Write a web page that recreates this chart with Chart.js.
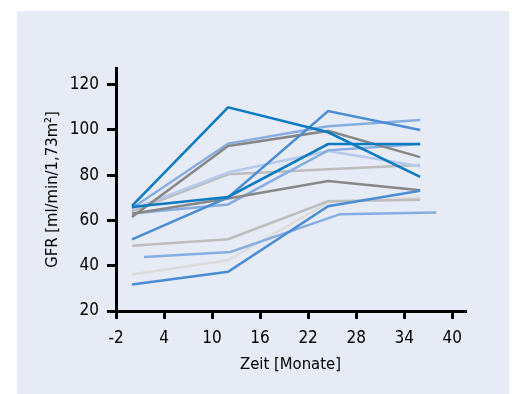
<!DOCTYPE html>
<html>
<head>
<meta charset="utf-8">
<script src="https://cdn.jsdelivr.net/npm/chart.js@4"></script>
<style>
  body { margin: 0; background: #fff; }
  #panel { position: absolute; left: 17px; top: 11px; width: 492px; height: 383px; background: #e7ebf6; }
  #gfrChart { position: absolute; left: 0; top: 0; }
</style>
</head>
<body>
<div id="panel"></div>
<canvas id="gfrChart" width="514" height="394"></canvas>
<script>
// months after transplant, per patient
const monthsStd = [0, 12, 24.5, 36];
const monthsLate = [1.5, 12.3, 26, 38];

// GFR values [ml/min/1,73m²]
const gfrA = [66.5, 110, 99, 79.3];
const gfrB = [66, 70.4, 93.8, 93.8];
const gfrC = [51.7, 70.2, 108.4, 100];
const gfrD = [65.4, 94, 101.7, 104.4];
const gfrE = [61.5, 92.9, 99.6, 88];
const gfrF = [63, 69.7, 77.4, 73.4];
const gfrG = [65, 81.2, 90.7, 84];
const gfrH = [63.1, 67.1, 91, 93.8];
const gfrI = [64, 80.4, 82.6, 84.5];
const gfrJ = [48.8, 51.7, 68.5, 69.2];
const gfrK = [43.9, 46.1, 62.8, 63.5];
const gfrL = [36.1, 42.4, 68, 70.2];
const gfrM = [31.7, 37.3, 66.3, 73.1];

const xTicks = [-2, 4, 10, 16, 22, 28, 34, 40];
const yTicks = [20, 40, 60, 80, 100, 120];

const darkBlue = '#0a7bc3';
const midBlue = '#4a8dd6';
const lightBlue = '#86ade2';
const paleBlue = '#b6caee';
const darkGray = '#878787';
const lightGray = '#bdbdbd';
const paleGray = '#dcdcdc';

function series(xs, ys, color) {
  return {
    data: ys.map((y, i) => ({ x: xs[i], y: y })),
    borderColor: color,
    borderWidth: 2.5,
    pointRadius: 0,
    tension: 0,
    fill: false
  };
}

const family = "'DejaVu Sans Condensed', 'Liberation Sans Narrow', sans-serif";
const tickFont = { family: family, size: 17 };
const titleFont = { family: family, size: 16.5 };

const ctx = document.getElementById('gfrChart').getContext('2d');
new Chart(ctx, {
  type: 'line',
  data: {
    datasets: [
      series(monthsStd, gfrA, darkBlue),
      series(monthsStd, gfrB, darkBlue),
      series(monthsStd, gfrC, midBlue),
      series(monthsStd, gfrM, midBlue),
      series(monthsStd, gfrE, darkGray),
      series(monthsStd, gfrF, darkGray),
      series(monthsStd, gfrD, lightBlue),
      series(monthsStd, gfrH, lightBlue),
      series(monthsLate, gfrK, lightBlue),
      series(monthsStd, gfrG, paleBlue),
      series(monthsStd, gfrI, lightGray),
      series(monthsStd, gfrJ, lightGray),
      series(monthsStd, gfrL, paleGray)
    ]
  },
  options: {
    responsive: false,
    animation: false,
    layout: { padding: { left: 0, top: 68, right: 49, bottom: 0 } },
    plugins: { legend: { display: false }, tooltip: { enabled: false } },
    scales: {
      x: {
        type: 'linear',
        min: -2,
        max: 41.6,
        afterFit: s => { s.height = 83; },
        afterBuildTicks: s => { s.ticks = xTicks.map(v => ({ value: v })); },
        grid: { drawOnChartArea: false, drawTicks: true, tickLength: 8, color: '#000', lineWidth: 3 },
        border: { display: true, color: '#000', width: 3 },
        ticks: { color: '#000', font: tickFont, padding: 9, maxRotation: 0 },
        title: { display: true, text: 'Zeit [Monate]', color: '#000', font: titleFont, padding: { top: 0, bottom: 19 } }
      },
      y: {
        type: 'linear',
        min: 20,
        max: 127.4,
        afterFit: s => { s.width = 116; },
        afterBuildTicks: s => { s.ticks = yTicks.map(v => ({ value: v })); },
        grid: { drawOnChartArea: false, drawTicks: true, tickLength: 9, color: '#000', lineWidth: 3 },
        border: { display: true, color: '#000', width: 3 },
        ticks: { color: '#000', font: tickFont, padding: 8 },
        title: { display: true, text: 'GFR [ml/min/1,73m²]', color: '#000', font: titleFont, padding: { top: 43, bottom: 0 } }
      }
    }
  }
});
</script>
</body>
</html>
